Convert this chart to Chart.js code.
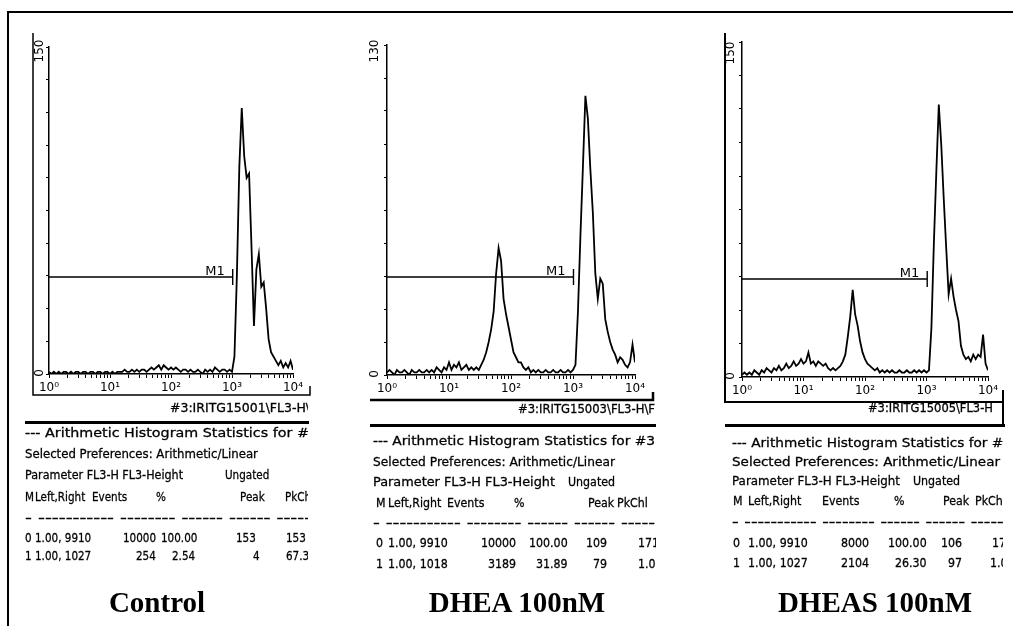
<!DOCTYPE html>
<html>
<head>
<meta charset="utf-8">
<script src="https://cdn.jsdelivr.net/npm/chart.js@4.4.1/dist/chart.umd.min.js"></script>
<style>
  html, body { margin: 0; padding: 0; background: #fff; }
  #page { position: relative; width: 1013px; height: 626px; overflow: hidden; background: #fff; }
  .panel { position: absolute; top: 0; }
  .rule { position: absolute; background: #000; }
  .clip { position: absolute; top: 0; height: 626px; overflow: hidden; }
  .t { position: absolute; white-space: nowrap; font-family: "DejaVu Sans", sans-serif; font-size: 13px;
       line-height: 1; color: #000; transform-origin: 0 50%; -webkit-text-stroke: 0.3px #000; }
  .cap { position: absolute; white-space: nowrap; font-family: "Liberation Serif", "Times New Roman", serif;
         font-weight: bold; font-size: 29px; line-height: 1; color: #000; transform: translate(-50%, -50%); }
</style>
</head>
<body>
<div id="page">
  <div class="rule" style="left:7px;top:11px;width:1006px;height:2px"></div>
  <div class="rule" style="left:7px;top:11px;width:2px;height:615px"></div>

  <canvas id="c1" class="panel" width="330" height="420" style="left:0px"></canvas>
  <canvas id="c2" class="panel" width="340" height="420" style="left:330px"></canvas>
  <canvas id="c3" class="panel" width="343" height="420" style="left:670px"></canvas>

  <div class="rule" style="left:25px;top:421px;width:284px;height:3px"></div>
  <div class="rule" style="left:370px;top:424px;width:286px;height:3px"></div>
  <div class="rule" style="left:725px;top:424px;width:280px;height:3px"></div>
  <div class="rule" style="left:1002px;top:402px;width:2px;height:24px"></div>

  <div id="t1" class="clip" style="left:0px;width:308px"></div>
  <div id="t2" class="clip" style="left:340px;width:316px"></div>
  <div id="t3" class="clip" style="left:680px;width:323px"></div>

  <div class="cap" style="left:157px;top:602px">Control</div>
  <div class="cap" style="left:517px;top:602px">DHEA 100nM</div>
  <div class="cap" style="left:875px;top:602px">DHEAS 100nM</div>
</div>

<script>
// FL3-H channel positions, in decades (10^0 .. 10^4)
const decades = [
  0.00, 0.04, 0.08, 0.12, 0.16, 0.20, 0.24, 0.28, 0.32, 0.36,
  0.40, 0.44, 0.48, 0.52, 0.56, 0.60, 0.64, 0.68, 0.72, 0.76,
  0.80, 0.84, 0.88, 0.92, 0.96, 1.00, 1.04, 1.08, 1.12, 1.16,
  1.20, 1.24, 1.28, 1.32, 1.36, 1.40, 1.44, 1.48, 1.52, 1.56,
  1.60, 1.64, 1.68, 1.72, 1.76, 1.80, 1.84, 1.88, 1.92, 1.96,
  2.00, 2.04, 2.08, 2.12, 2.16, 2.20, 2.24, 2.28, 2.32, 2.36,
  2.40, 2.44, 2.48, 2.52, 2.56, 2.60, 2.64, 2.68, 2.72, 2.76,
  2.80, 2.84, 2.88, 2.92, 2.96, 3.00, 3.04, 3.08, 3.12, 3.16,
  3.20, 3.24, 3.28, 3.32, 3.36, 3.40, 3.44, 3.48, 3.52, 3.56,
  3.60, 3.64, 3.68, 3.72, 3.76, 3.80, 3.84, 3.88, 3.92, 3.96,
  4.00
];

// event counts
const controlCounts = [
  1, 0, 1, 0, 1, 0, 1, 1, 0, 1,
  0, 1, 1, 0, 1, 1, 0, 1, 1, 0,
  1, 1, 0, 1, 1, 0, 1, 0, 1, 1,
  1, 2, 1, 1, 2, 1, 2, 1, 2, 2,
  1, 2, 3, 2, 3, 4, 2, 4, 3, 2,
  3, 2, 3, 2, 1, 2, 2, 1, 2, 1,
  1, 2, 1, 0, 2, 1, 2, 1, 3, 2,
  1, 2, 2, 1, 2, 1, 8, 45, 95, 122,
  100, 90, 92, 58, 22, 48, 55, 40, 42, 30,
  16, 10, 8, 6, 4, 6, 3, 5, 3, 6,
  2
];
const dheaCounts = [
  1, 2, 1, 0, 2, 1, 1, 2, 1, 0,
  2, 1, 1, 2, 1, 1, 2, 1, 2, 1,
  3, 2, 1, 3, 2, 5, 2, 4, 3, 5,
  2, 3, 4, 2, 3, 2, 3, 2, 4, 6,
  9, 13, 18, 25, 40, 50, 45, 30, 24, 19,
  14, 9, 7, 5, 5, 3, 2, 3, 1, 2,
  1, 2, 1, 1, 2, 1, 1, 2, 1, 1,
  2, 1, 1, 2, 1, 2, 4, 25, 55, 82,
  110, 101, 81, 64, 40, 30, 38, 36, 22, 17,
  13, 10, 8, 5, 7, 6, 4, 3, 5, 12,
  5
];
const dheasCounts = [
  1, 2, 1, 2, 1, 3, 2, 1, 3, 2,
  4, 3, 2, 4, 3, 5, 3, 4, 6, 4,
  5, 7, 5, 6, 8, 6, 7, 11, 6, 7,
  5, 7, 6, 5, 6, 4, 3, 4, 3, 4,
  5, 7, 10, 18, 27, 39, 28, 23, 16, 11,
  8, 6, 5, 4, 3, 4, 2, 3, 2, 3,
  2, 3, 2, 2, 3, 2, 2, 3, 2, 2,
  3, 2, 3, 2, 3, 2, 3, 22, 60, 92,
  122, 104, 80, 58, 37, 44, 36, 30, 25, 14,
  10, 8, 9, 7, 10, 8, 10, 9, 19, 6,
  3
];

const yMaxima = [150, 130, 150];
const yTopLabels = ['150', '130', '150'];
const xTickLabels = ['10⁰', '10¹', '10²', '10³', '10⁴'];
// M1 marker: left edge, right edge (from the stats table) and drawing height in counts
const markerLeft = [1.00, 1.00, 1.00];
const markerRight = [1027, 1018, 1027];
const markerLevel = [44.5, 38.6, 43.9];

// layout of each panel (pixels relative to the plot area)
const panels = [
  { id: 'c1', counts: controlCounts, pad: { left: 29, right: 37, top: 47, bottom: 20 },
    frame: { left: -16, top: -14, bottom: 21, right: 17, bracket: 9, showLeft: true, lw: 1.5 }, yLab: 9, yLabDy: 4 },
  { id: 'c2', counts: dheaCounts, pad: { left: 37, right: 35, top: 45, bottom: 19 },
    frame: { left: -17, top: -10, bottom: 25, right: 18, bracket: 8, showLeft: false, lw: 2.5 }, yLab: 12, yLabDy: 6 },
  { id: 'c3', counts: dheasCounts, pad: { left: 52, right: 25, top: 42, bottom: 17 },
    frame: { left: -17, top: -9, bottom: 25, right: 15, bracket: 12, showLeft: true, lw: 2 }, yLab: 11, yLabDy: 11 }
];

const decor = {
  id: 'decor',
  afterDraw(chart, args, opts) {
    const { ctx, chartArea: a, scales: { x, y } } = chart;
    const i = opts.index, p = panels[i], f = p.frame;
    ctx.save();
    ctx.strokeStyle = '#000';
    ctx.fillStyle = '#000';

    // scanned printout frame
    ctx.lineWidth = f.lw;
    ctx.beginPath();
    if (f.showLeft) {
      ctx.moveTo(a.left + f.left, a.top + f.top);
      ctx.lineTo(a.left + f.left, a.bottom + f.bottom);
    } else {
      ctx.moveTo(a.left + f.left, a.bottom + f.bottom);
    }
    ctx.lineTo(a.right + f.right, a.bottom + f.bottom);
    ctx.lineTo(a.right + f.right, a.bottom + f.bottom - f.bracket);
    ctx.stroke();

    // y labels, rotated like the printout
    ctx.font = '12px "DejaVu Sans"';
    ctx.textAlign = 'center';
    ctx.textBaseline = 'middle';
    [[yMaxima[i], yTopLabels[i], p.yLabDy], [0, '0', -1]].forEach(([v, s, dy]) => {
      ctx.save();
      ctx.translate(a.left - p.yLab, y.getPixelForValue(v) + dy);
      ctx.rotate(-Math.PI / 2);
      ctx.fillText(s, 0, 0);
      ctx.restore();
    });

    // M1 marker
    const my = y.getPixelForValue(markerLevel[i]);
    const x0 = x.getPixelForValue(markerLeft[i]);
    const x1 = x.getPixelForValue(markerRight[i]);
    ctx.lineWidth = 1.4;
    ctx.beginPath();
    ctx.moveTo(x0, my);
    ctx.lineTo(x1, my);
    ctx.moveTo(x1, my - 8);
    ctx.lineTo(x1, my + 8);
    ctx.stroke();
    ctx.font = '13px "DejaVu Sans"';
    ctx.textAlign = 'right';
    ctx.textBaseline = 'alphabetic';
    ctx.fillText('M1', x1 - 8, my - 2);
    ctx.restore();
  }
};

function buildChart(p, i) {
  const yMax = yMaxima[i];
  return new Chart(document.getElementById(p.id), {
    type: 'line',
    data: {
      datasets: [{
        data: decades.map((d, k) => ({ x: Math.pow(10, d), y: p.counts[k] })),
        borderColor: '#000',
        borderWidth: 1.8,
        pointRadius: 0,
        tension: 0,
        fill: false
      }]
    },
    options: {
      responsive: false,
      animation: false,
      devicePixelRatio: 1,
      layout: { padding: p.pad },
      plugins: { legend: { display: false }, tooltip: { enabled: false }, decor: { index: i } },
      scales: {
        x: {
          type: 'logarithmic', min: 1, max: 10000, position: 'bottom',
          afterBuildTicks: s => {
            // keep 1..9 per decade like the cytometer axis
            s.ticks = s.ticks.filter(t => {
              const e = Math.floor(Math.log10(t.value) + 1e-9);
              return Math.abs(t.value / Math.pow(10, e) - 1.5) > 0.01;
            });
          },
          afterFit: s => { s.height = 26; },
          ticks: {
            autoSkip: false, minRotation: 0, maxRotation: 0, padding: 3, color: '#000',
            font: { family: 'DejaVu Sans', size: 12 },
            callback: v => {
              const e = Math.log10(v);
              return Math.abs(e - Math.round(e)) < 1e-9 ? xTickLabels[Math.round(e)] : '';
            }
          },
          grid: { display: true, drawOnChartArea: false, drawTicks: true, tickLength: 4, color: '#000', lineWidth: 1 },
          border: { display: true, color: '#000', width: 1.5 }
        },
        y: {
          type: 'linear', min: 0, max: yMax, position: 'left',
          afterFit: s => { s.width = 20; },
          ticks: { display: false, stepSize: yMax / 10 },
          grid: { display: true, drawOnChartArea: false, drawTicks: true, tickLength: 3, color: '#000', lineWidth: 1 },
          border: { display: true, color: '#000', width: 1.5 }
        }
      }
    },
    plugins: [decor]
  });
}

panels.forEach(buildChart);

// statistics printout under each histogram
// full lines stretched between two x positions: [text, left, right, centre y, size]
// short fields anchored at one x: [text, x, centre y, 'l' | 'r']
const lines1 = [
  ['#3:IRITG15001\\FL3-H\\', 170, 310, 408, 12],
  ['--- Arithmetic Histogram Statistics for #3', 25, 318, 432],
  ['Selected Preferences: Arithmetic/Linear', 25, 258, 453],
  ['Parameter FL3-H FL3-Height', 25, 183, 474],
  ['- ----------- -------- ------ ------ ------', 25, 318, 517]
];
const fields1 = [
  ['Ungated', 225, 474, 'l'],
  ['M', 25, 496, 'l'], ['Left,Right', 35, 496, 'l'], ['Events', 92, 496, 'l'],
  ['%', 156, 496, 'l'], ['Peak', 240, 496, 'l'], ['PkCh', 285, 496, 'l'],
  ['0', 25, 537, 'l'], ['1.00, 9910', 35, 537, 'l'], ['10000', 156, 537, 'r'],
  ['100.00', 197, 537, 'r'], ['153', 256, 537, 'r'], ['153', 286, 537, 'l'],
  ['1', 25, 555, 'l'], ['1.00, 1027', 35, 555, 'l'], ['254', 156, 555, 'r'],
  ['2.54', 195, 555, 'r'], ['4', 260, 555, 'r'], ['67.3', 286, 555, 'l']
];
const lines2 = [
  ['#3:IRITG15003\\FL3-H\\F', 518, 655, 409, 12],
  ['--- Arithmetic Histogram Statistics for #3', 373, 655, 440],
  ['Selected Preferences: Arithmetic/Linear', 373, 615, 461],
  ['Parameter FL3-H FL3-Height', 373, 555, 481],
  ['- ----------- -------- ------ ------ -----', 373, 655, 522]
];
const fields2 = [
  ['Ungated', 568, 481, 'l'],
  ['M', 376, 502, 'l'], ['Left,Right', 388, 502, 'l'], ['Events', 447, 502, 'l'],
  ['%', 514, 502, 'l'], ['Peak', 588, 502, 'l'], ['PkChl', 617, 502, 'l'],
  ['0', 376, 542, 'l'], ['1.00, 9910', 388, 542, 'l'], ['10000', 516, 542, 'r'],
  ['100.00', 568, 542, 'r'], ['109', 607, 542, 'r'], ['171', 638, 542, 'l'],
  ['1', 376, 563, 'l'], ['1.00, 1018', 388, 563, 'l'], ['3189', 516, 563, 'r'],
  ['31.89', 568, 563, 'r'], ['79', 607, 563, 'r'], ['1.0', 638, 563, 'l']
];
const lines3 = [
  ['#3:IRITG15005\\FL3-H', 868, 993, 408, 12],
  ['--- Arithmetic Histogram Statistics for #3', 732, 1012, 442],
  ['Selected Preferences: Arithmetic/Linear', 732, 1000, 461],
  ['Parameter FL3-H FL3-Height', 732, 900, 480],
  ['- ----------- -------- ------ ------ ------', 732, 1010, 521]
];
const fields3 = [
  ['Ungated', 913, 480, 'l'],
  ['M', 733, 500, 'l'], ['Left,Right', 748, 500, 'l'], ['Events', 822, 500, 'l'],
  ['%', 894, 500, 'l'], ['Peak', 943, 500, 'l'], ['PkCh.', 975, 500, 'l'],
  ['0', 733, 542, 'l'], ['1.00, 9910', 748, 542, 'l'], ['8000', 869, 542, 'r'],
  ['100.00', 927, 542, 'r'], ['106', 962, 542, 'r'], ['171', 992, 542, 'l'],
  ['1', 733, 562, 'l'], ['1.00, 1027', 748, 562, 'l'], ['2104', 869, 562, 'r'],
  ['26.30', 927, 562, 'r'], ['97', 962, 562, 'r'], ['1.0', 990, 562, 'l']
];

function makeSpan(box, s, fs) {
  const el = document.createElement('span');
  el.className = 't';
  el.textContent = s;
  el.style.fontSize = fs + 'px';
  box.appendChild(el);
  return el;
}

function placeText(boxId, originX, lines, fields, squeeze) {
  const box = document.getElementById(boxId);
  lines.forEach(([s, x0, x1, y, size]) => {
    const fs = size || 13;
    const el = makeSpan(box, s, fs);
    el.style.left = (x0 - originX) + 'px';
    el.style.top = (y - fs / 2) + 'px';
    const w = el.getBoundingClientRect().width;
    el.style.transform = 'scaleX(' + ((x1 - x0) / w).toFixed(3) + ')';
  });
  fields.forEach(([s, x, y, align]) => {
    const el = makeSpan(box, s, 13);
    const w = el.getBoundingClientRect().width * squeeze;
    el.style.left = ((align === 'r' ? x - w : x) - originX) + 'px';
    el.style.top = (y - 6.5) + 'px';
    el.style.transform = 'scaleX(' + squeeze + ')';
  });
}

placeText('t1', 0, lines1, fields1, 0.8);
placeText('t2', 340, lines2, fields2, 0.85);
placeText('t3', 680, lines3, fields3, 0.85);
</script>
</body>
</html>
